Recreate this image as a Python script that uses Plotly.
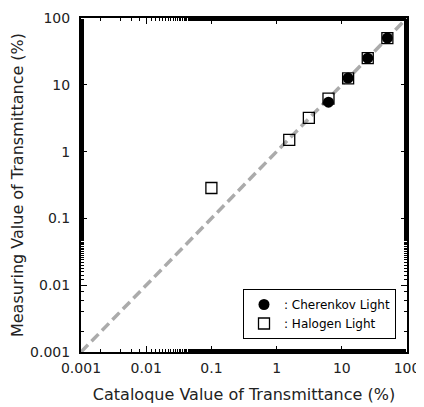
import plotly.graph_objects as go

cat_cherenkov = [6.25, 12.5, 25, 50]
meas_cherenkov = [5.5, 12.6, 25, 50]
cat_halogen = [0.1, 1.5625, 3.125, 6.25, 12.5, 25, 50]
meas_halogen = [0.285, 1.5, 3.2, 6.2, 12.5, 25, 50]
ref_line = [0.001, 100]
tick_vals = [0.001, 0.01, 0.1, 1, 10, 100]
tick_text = ["0.001", "0.01", "0.1", "1", "10", "100"]

FONT = "DejaVu Sans"

fig = go.Figure()
fig.add_trace(go.Scatter(x=ref_line, y=ref_line, mode="lines",
                         line=dict(color="#ababab", width=3.5, dash="10px,5px"),
                         showlegend=False, hoverinfo="skip"))
fig.add_trace(go.Scatter(x=cat_cherenkov, y=meas_cherenkov, mode="markers",
                         name=": Cherenkov Light",
                         marker=dict(symbol="circle", size=11, color="black")))
fig.add_trace(go.Scatter(x=cat_halogen, y=meas_halogen, mode="markers",
                         name=": Halogen Light",
                         marker=dict(symbol="square-open", size=11, color="black",
                                     line=dict(width=1.3, color="black"))))

axis_common = dict(type="log", showgrid=False, zeroline=False, automargin=False,
                   showline=True, linecolor="black", linewidth=2,
                   mirror="allticks", ticks="inside", ticklen=6, tickwidth=1,
                   tickcolor="black", tickvals=tick_vals, ticktext=tick_text,
                   minor=dict(ticks="inside", ticklen=3, tickcolor="black", tickwidth=1),
                   tickfont=dict(family=FONT, size=14, color="#222"))

fig.update_xaxes(range=[-3, 2], ticklabelstandoff=2,
                 title=dict(text="Cataloque Value of Transmittance (%)",
                            font=dict(family=FONT, size=16, color="#222"), standoff=14),
                 **axis_common)
fig.update_yaxes(range=[-3, 2], ticklabelstandoff=6,
                 title=dict(text="Measuring Value of Transmittance (%)",
                            font=dict(family=FONT, size=16, color="#222"), standoff=10),
                 **axis_common)

fig.update_layout(width=416, height=399, margin=dict(l=73, r=17, t=10, b=55),
                  plot_bgcolor="white", paper_bgcolor="white",
                  legend=dict(x=0.7316, y=0.1138, xanchor="center", yanchor="middle",
                              bgcolor="white", bordercolor="black", borderwidth=1,
                              font=dict(family=FONT, size=12, color="black"),
                              itemwidth=30, tracegroupgap=0))
fig.write_html("out.html")
